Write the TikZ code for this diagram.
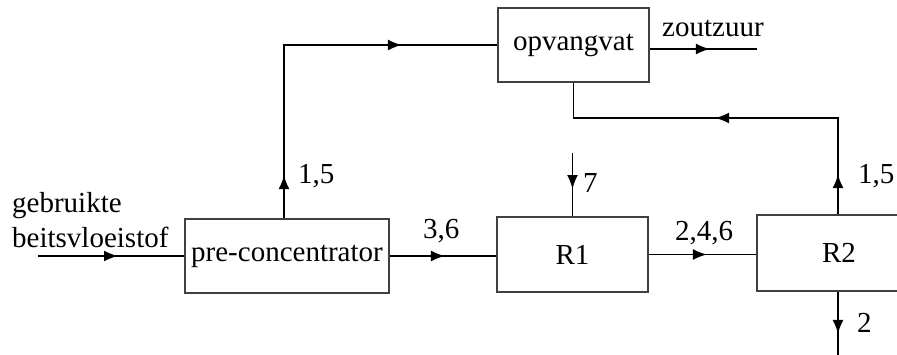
\documentclass[tikz,border=0pt]{standalone}
\usepackage{fontspec}
\setmainfont{Liberation Serif}
\usetikzlibrary{arrows.meta,decorations.markings}
\tikzset{
  blok/.style={draw=black!75, line width=1.8pt, inner sep=0pt, font=\fontsize{29}{34}\selectfont},
  lbl/.style={inner sep=0pt, anchor=base west, font=\fontsize{29}{34}\selectfont},
  flow/.style={line width=1.8pt, black},
  tipA/.style={postaction={decorate}, decoration={markings, mark=at position #1 with {\arrow{Latex[length=14pt,width=11pt]}}}},
  tipB/.style 2 args={postaction={decorate}, decoration={markings, mark=at position #1 with {\arrow{Latex[length=14pt,width=11pt]}}, mark=at position #2 with {\arrow{Latex[length=14pt,width=11pt]}}}}
}
\begin{document}
\begin{tikzpicture}[x=1pt,y=-1pt]
\clip (0,0) rectangle (897,354);
\fill[white] (0,0) rectangle (897,354);
% boxes
\node[blok, minimum width=204pt, minimum height=74pt] (pre) at (287,256) {pre-concentrator};
\node[blok, minimum width=151pt, minimum height=74pt] (opv) at (573.5,45) {opvangvat};
\node[blok, minimum width=151pt, minimum height=75pt] (r1) at (572.5,254.5) {R1};
\node[blok, minimum width=164pt, minimum height=76pt] (r2) at (839,253) {R2};
% coordinates
\coordinate (in) at (38,256);
\coordinate (c1) at (284,45);
\coordinate (c2) at (838,118);
\coordinate (c3) at (573.5,118);
\coordinate (out) at (757,49);
\coordinate (r1in) at (572.5,153);
\coordinate (r2out) at (838,360);
% connectors
\draw[flow, tipA=80pt] (in) -- (pre.west);
\draw[flow, tipA=55pt] (pre.east) -- (pre.east -| r1.west);
\draw[flow, tipA=58pt] (r1.east) -- (r1.east -| r2.west);
\draw[flow, tipB={43pt}{291pt}] (pre.north -| c1) -- (c1) -- (opv.west);
\draw[flow, tipB={40pt}{219pt}] (r2.north -| c2) -- (c2) -- (c3) -- (opv.south);
\draw[flow, tipA=60pt] (opv.east |- out) -- (out);
\draw[flow, tipA=36pt] (r1in) -- (r1.north);
\draw[flow, tipA=42pt] (r2.south -| c2) -- (r2out);
% labels
\node[lbl] (l1) at (298,183) {1,5};
\node[lbl] (l2) at (583,192) {7};
\node[lbl] (l3) at (858,183) {1,5};
\node[lbl] (l4) at (857,332) {2};
\node[lbl] (l5) at (423,238) {3,6};
\node[lbl] (l6) at (675,240) {2,4,6};
\node[lbl] (l7) at (662,36) {zoutzuur};
\node[lbl] (l8) at (12,212) {gebruikte};
\node[lbl] (l9) at (12,247) {beitsvloeistof};
\end{tikzpicture}
\end{document}
